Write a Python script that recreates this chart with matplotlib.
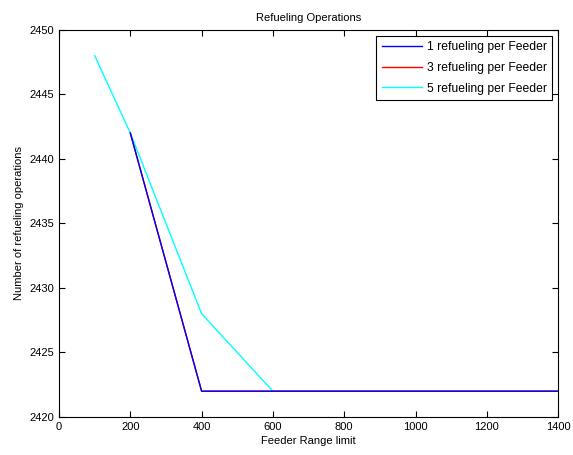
import matplotlib
matplotlib.use("Agg")
import matplotlib.pyplot as plt

plt.rcParams['font.family'] = ['Liberation Sans', 'DejaVu Sans']

range_limit = [100, 200, 400, 600, 800, 1000, 1200, 1400]
ops_1 = [None, 2442, 2422, 2422, 2422, 2422, 2422, 2422]
ops_3 = [None, 2442, 2422, 2422, 2422, 2422, 2422, 2422]
ops_5 = [2448, 2442, 2428, 2422, 2422, 2422, 2422, 2422]

def clean(xs, ys):
    pts = [(x, y) for x, y in zip(xs, ys) if y is not None]
    return [p[0] for p in pts], [p[1] for p in pts]

fig = plt.figure(figsize=(5.73, 4.55), dpi=100)
ax = fig.add_axes([0.103, 0.0835, 0.871, 0.851])

x1, y1 = clean(range_limit, ops_1)
x3, y3 = clean(range_limit, ops_3)
x5, y5 = clean(range_limit, ops_5)
ax.plot(x1, y1, color='#0000ff', lw=1, label='1 refueling per Feeder', zorder=4)
ax.plot(x3, y3, color='#ff0000', lw=1, label='3 refueling per Feeder', zorder=3)
ax.plot(x5, y5, color='#00ffff', lw=1, label='5 refueling per Feeder', zorder=2)

ax.set_xlim(0, 1400)
ax.set_ylim(2420, 2450)
ax.set_xticks(range(0, 1401, 200))
ax.set_yticks(range(2420, 2451, 5))
ax.tick_params(direction='in', top=True, right=True, labelsize=8, length=4)
ax.ticklabel_format(useOffset=False, style='plain', axis='y')

ax.set_title('Refueling Operations', fontsize=8)
ax.set_xlabel('Feeder Range limit', fontsize=8, labelpad=3)
ax.set_ylabel('Number of refueling operations', fontsize=8, labelpad=4)

leg = ax.legend(loc='upper right', fontsize=8.7, fancybox=False, framealpha=1,
                edgecolor='black', borderaxespad=0.5, handlelength=3.3,
                labelspacing=0.72, handletextpad=0.4, borderpad=0.45)
leg.get_frame().set_linewidth(0.8)

plt.savefig('out.png', dpi=100)
